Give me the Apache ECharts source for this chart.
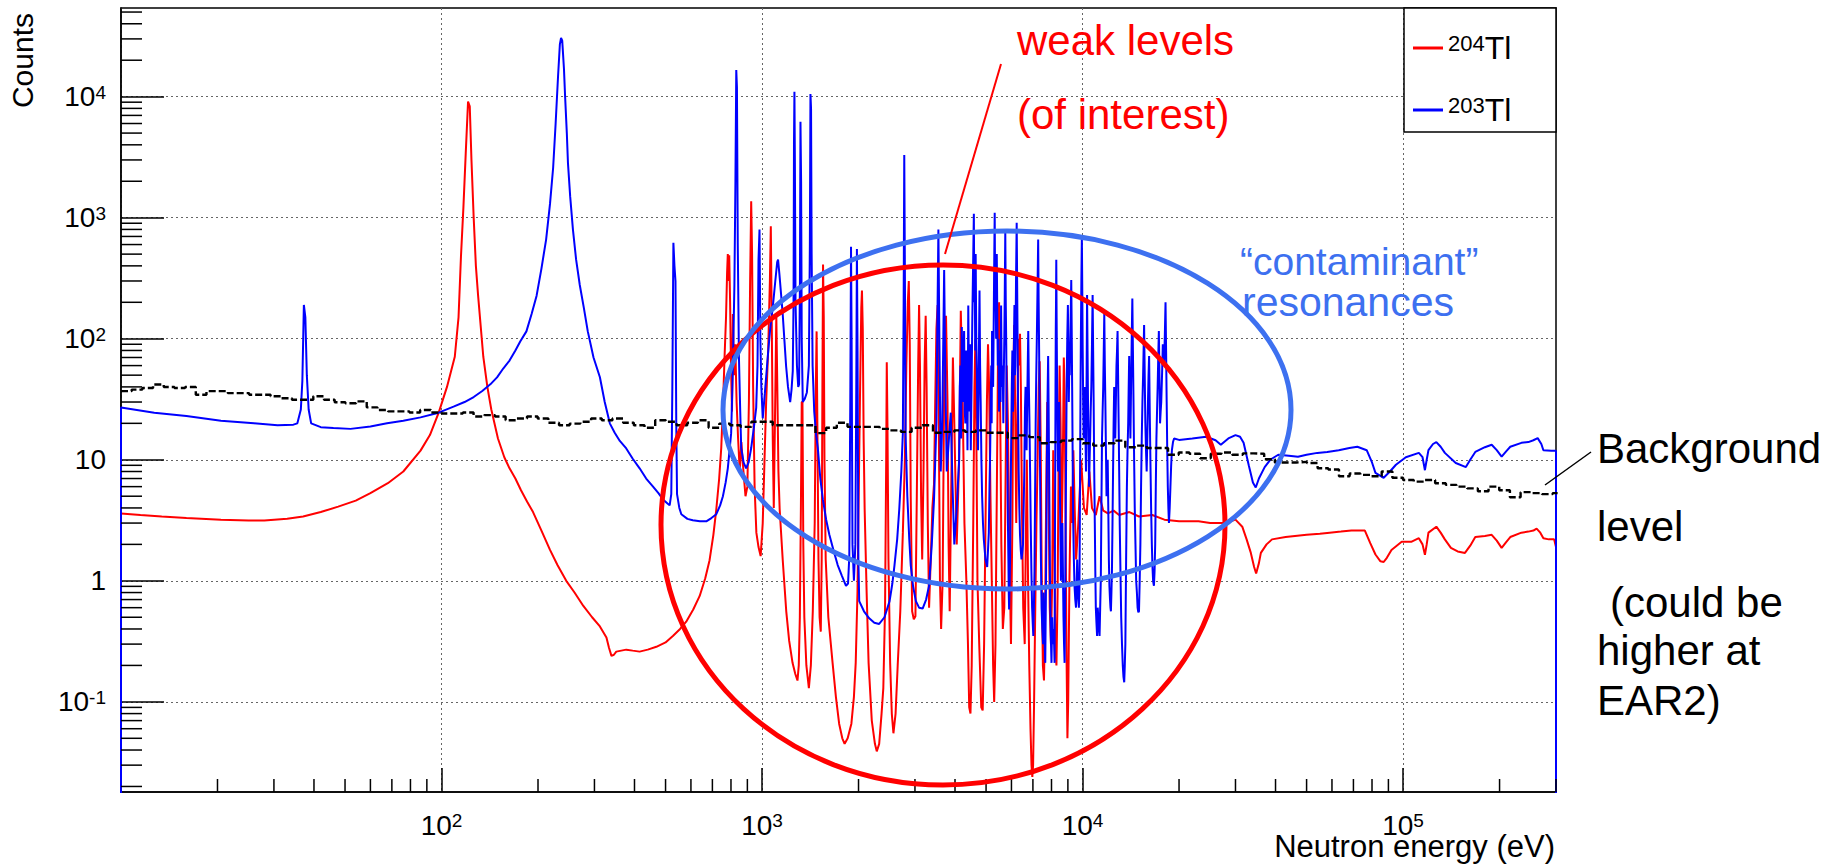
<!DOCTYPE html>
<html>
<head>
<meta charset="utf-8">
<title>204Tl / 203Tl counts vs neutron energy</title>
<script src="https://cdn.jsdelivr.net/npm/echarts@6.0.0/dist/echarts.min.js"></script>
<style>
  html, body { margin: 0; padding: 0; background: #fff; }
  #main { width: 1825px; height: 866px; }
</style>
</head>
<body>
<div id="main"></div>
<script>
// axis ranges
var xRange = [10, 3e5];
var yRange = [0.018, 5.4e4];
var xMajorTicks = [10, 1e2, 1e3, 1e4, 1e5];
var xLabelTicks = [1e2, 1e3, 1e4, 1e5];
var yMajorTicks = [1e-1, 1, 10, 1e2, 1e3, 1e4];

// 204Tl capture counts, [energy eV, counts]
var tl204 = [
  [10,3.6],[11.5,3.5],[13.4,3.4],[16,3.3],[20.5,3.2],[25,3.15],[28,3.15],[33,3.25],[37,3.4],[42,3.7],
  [47.6,4.1],[54,4.6],[60,5.3],[68,6.4],[76,8],[86,11.9],[92,16],[98,24.5],[104,40],[110,71],
  [113,150],[115,480],[117,1200],[119,3400],[121,9100],[122.5,8300],[124,3000],[126,1000],[128,400],[130,230],
  [135,71],[139,40],[143,26],[150,15],[157,10.5],[163,8.5],[170,7],[177,5.6],[185,4.5],[193,3.7],
  [205,2.6],[218,1.8],[230,1.35],[245,1],[260,0.8],[277,0.62],[295,0.5],[312,0.42],[327,0.34],[333,0.28],
  [339,0.24],[345,0.245],[351,0.26],[377,0.27],[395,0.265],[415,0.26],[440,0.27],[468,0.285],[500,0.31],[527,0.35],
  [555,0.4],[580,0.46],[610,0.58],[639,0.75],[665,1.05],[686,1.48],[705,2.4],[720,3.9],[735,7],[746,12.5],
  [756,30],[764,71],[772,150],[778,350],[782,500],[786,300],[790,490],[795,200],[800,60],[806,25],
  [811,160],[818,50],[825,90],[833,30],[842,15],[852,8],[862,14],[875,8],[888,5],[900,6],
  [910,30],[918,300],[925,1370],[931,500],[938,40],[948,6],[960,2.5],[975,1.9],[990,1.6],[1005,3],
  [1018,10],[1030,30],[1045,80],[1058,300],[1065,850],[1072,150],[1080,15],[1088,4],[1097,20],[1108,155],
  [1116,40],[1125,8],[1135,3.9],[1160,1.5],[1190,0.56],[1215,0.32],[1245,0.21],[1270,0.17],[1290,0.15],[1302,0.2],
  [1312,0.5],[1322,4],[1330,30],[1337,30],[1345,2],[1355,0.5],[1375,0.2],[1400,0.13],[1420,0.2],[1440,0.56],
  [1460,3],[1472,40],[1480,115],[1488,20],[1500,1.5],[1512,0.5],[1525,0.38],[1535,1.5],[1543,40],[1550,410],
  [1558,150],[1566,10],[1580,1.5],[1610,0.5],[1660,0.21],[1700,0.11],[1740,0.066],[1780,0.05],[1810,0.045],[1850,0.05],
  [1900,0.066],[1935,0.11],[1960,0.21],[1985,0.8],[2000,3.9],[2020,30],[2040,180],[2050,250],[2062,120],[2075,15],
  [2090,3.9],[2120,0.8],[2150,0.21],[2200,0.07],[2250,0.045],[2280,0.039],[2320,0.045],[2360,0.08],[2390,0.13],[2420,0.6],
  [2440,10],[2450,64],[2462,20],[2480,1.5],[2510,0.21],[2540,0.08],[2570,0.055],[2610,0.08],[2650,0.2],[2700,0.56],
  [2750,2.5],[2790,10],[2820,60],[2850,200],[2870,300],[2890,90],[2910,5],[2940,0.56],[2975,0.48],[3010,0.51],
  [3040,5],[3070,60],[3090,190],[3110,60],[3135,5],[3160,1.5],[3190,8],[3215,60],[3240,155],[3262,40],
  [3290,3],[3320,0.6],[3360,1.5],[3400,4],[3440,6.3],[3470,30],[3500,120],[3530,190],[3560,20],[3590,1],
  [3620,0.4],[3660,1],[3700,40],[3750,155],[3790,30],[3820,2],[3850,0.56],[3890,5],[3940,70],[3980,20],
  [4050,2],[4120,10],[4170,170],[4220,40],[4280,3],[4340,1],[4390,0.3],[4430,0.09],[4470,0.08],[4510,0.2],
  [4560,3],[4600,40],[4630,100],[4660,20],[4700,1],[4760,0.3],[4830,0.09],[4880,0.085],[4930,0.3],[4980,3],
  [5030,30],[5070,90],[5110,40],[5160,5],[5210,1],[5260,0.2],[5300,0.1],[5350,0.3],[5400,5],[5450,80],
  [5490,200],[5530,30],[5580,2],[5640,0.4],[5700,0.6],[5760,10],[5800,60],[5850,20],[5920,1.5],[5980,0.3],
  [6040,3],[6080,50],[6120,130],[6160,30],[6210,3],[6260,20],[6300,100],[6340,60],[6380,110],[6420,40],
  [6470,4],[6530,0.6],[6600,0.3],[6650,2],[6700,10],[6760,1],[6820,0.2],[6880,0.06],[6930,0.03],[6970,0.024],
  [7010,0.03],[7060,0.1],[7120,0.6],[7180,3],[7240,10],[7300,40],[7350,65],[7400,15],[7460,1],[7520,0.2],
  [7580,0.15],[7640,0.5],[7700,5],[7760,30],[7820,8],[7900,0.6],[7970,0.3],[8040,1],[8100,12],[8160,3],
  [8220,0.3],[8290,0.2],[8360,0.8],[8420,10],[8480,60],[8540,20],[8600,2],[8680,10],[8740,70],[8800,30],
  [8860,2],[8920,0.2],[8970,0.05],[9020,0.1],[9100,1],[9200,6],[9280,3],[9360,12],[9450,4],[9550,1.5],
  [9700,3],[9900,10],[10100,4],[10300,3.5],[10500,8],[10700,4],[11000,3.5],[11300,5],[11600,3.8],[12000,3.6],
  [12500,3.8],[13000,3.5],[14000,3.7],[15000,3.4],[16500,3.5],[18000,3.2],[20000,3.1],[23000,3.1],[25000,3],[28000,3],
  [30000,3.2],[31500,2.8],[32500,2.2],[33500,1.7],[34300,1.3],[34800,1.15],[35500,1.4],[36000,1.7],[37500,2],[39000,2.2],
  [43000,2.3],[46000,2.35],[50000,2.4],[55000,2.45],[59000,2.5],[64000,2.55],[69000,2.6],[76000,2.6],[79000,2.05],[82000,1.65],
  [85000,1.45],[87000,1.43],[89000,1.55],[92000,1.8],[99000,2.1],[106000,2.1],[112000,2.25],[115000,2],[117000,1.64],[118500,2],
  [120000,2.5],[127000,2.8],[131000,2.5],[135000,2.2],[141000,1.87],[148000,1.75],[156000,1.7],[162000,1.95],[168000,2.3],[180000,2.35],
  [189000,2.4],[196000,2.15],[203000,1.87],[210000,2.1],[216000,2.3],[234000,2.5],[246000,2.55],[255000,2.6],[261000,2.7],[268000,2.5],
  [274000,2.25],[285000,2.2],[296000,2.2],[300000,1.9]
];

// 203Tl capture counts, [energy eV, counts]
var tl203 = [
  [10,0.001],[10,27],[12.7,24.5],[16,23],[20.5,21],[26,20],[30.8,19.3],[34.5,19.5],[35.5,20],[36.4,26],
  [36.8,45],[37.2,190],[37.6,150],[38,50],[38.5,26],[39.2,20],[42,18.6],[46,18.3],[52,18],[60,18.8],
  [67.6,20],[76,21],[86,22.4],[98,24.5],[109,27.5],[118,30],[126,33],[134,37],[142,42],[149,48],
  [156,57],[163,66],[170,80],[176,95],[184,115],[191,160],[198,227],[205,380],[212,660],[218,1300],
  [223,2600],[227,6000],[231,14800],[234,27000],[236,30500],[238,29000],[241,17000],[243,10000],[246,5000],[248,2840],
  [252,1500],[257,800],[263,450],[270,278],[278,180],[286,115],[298,70],[312,48],[323,30],[335,20],
  [347,16.7],[360,14.3],[377,12.4],[395,10.2],[415,8.5],[435,7],[457,6],[475,5.3],[491,4.7],[505,4.4],
  [515,4.2],[521,5.2],[525,40],[529,620],[533,400],[537,300],[540,20],[543,5.2],[552,4],[560,3.55],
  [585,3.25],[608,3.16],[640,3.1],[670,3.1],[695,3.3],[720,3.55],[740,4.2],[755,5],[770,6.5],[782,8.5],
  [792,12],[801,16.6],[810,50],[820,280],[826,2000],[831,16600],[835,12000],[840,600],[847,71],[855,25],
  [861,12.5],[876,9.5],[892,8.5],[908,9.5],[925,12.5],[942,18],[959,27],[968,60],[975,450],[982,800],
  [988,100],[995,40],[1005,22],[1020,35],[1042,71],[1060,120],[1081,186],[1100,300],[1115,430],[1122,450],
  [1133,340],[1147,230],[1161,155],[1175,95],[1189,59],[1205,40],[1224,30],[1236,38],[1247,54],[1254,200],
  [1258,4000],[1262,11000],[1266,3000],[1272,200],[1285,60],[1297,40],[1305,42],[1313,300],[1318,6200],[1324,2000],
  [1330,100],[1340,30],[1360,32],[1380,36],[1400,60],[1410,600],[1416,10500],[1422,8000],[1428,500],[1438,60],
  [1455,25],[1475,16],[1493,12.5],[1520,7],[1548,4.7],[1585,3.2],[1622,2.4],[1670,1.8],[1722,1.35],[1775,1.1],
  [1828,0.91],[1855,0.95],[1872,1.6],[1885,30],[1895,575],[1903,100],[1915,2],[1935,1],[1955,2],[1968,40],
  [1977,550],[1986,80],[1998,1.5],[2010,0.68],[2080,0.56],[2160,0.49],[2240,0.45],[2320,0.44],[2410,0.5],[2500,0.68],
  [2550,0.95],[2590,1.35],[2640,2.2],[2680,3.9],[2720,8],[2750,16.6],[2766,200],[2778,3300],[2790,400],[2805,16],
  [2840,5],[2880,2.2],[2910,1.35],[2960,0.9],[3020,0.68],[3090,0.6],[3170,0.59],[3250,0.7],[3320,0.91],[3385,2],
  [3440,4.7],[3500,20],[3530,200],[3550,800],[3570,150],[3610,8],[3650,20],[3700,370],[3730,50],[3770,8],
  [3830,15],[3880,24.5],[3930,6],[3980,2],[4050,4],
  [4120,10],[4140,40],[4160,60],[4180,15],[4200,125],[4220,40],[4235,30],[4250,70],[4270,116],[4290,25],
  [4310,20],[4330,80],[4350,60],[4375,12],[4400,188],[4420,50],[4440,25],[4460,90],[4480,12],[4505,40],
  [4530,150],[4555,400],[4580,1080],[4595,200],[4610,300],[4625,80],[4640,500],[4660,100],[4680,50],[4700,20],
  [4720,12],[4745,60],[4770,250],[4790,60],[4810,30],[4835,10],[4860,5],[4890,3],[4920,2.2],[4950,1.8],
  [4980,1.5],[5010,1.4],[5040,1.3],[5070,1.8],[5100,2.5],[5125,6],[5150,12],[5170,30],[5190,60],[5205,20],
  [5220,116],[5240,50],[5260,40],[5280,120],[5300,400],[5320,1100],[5335,250],[5350,300],[5375,100],[5400,500],
  [5420,150],[5440,60],[5465,100],[5490,25],[5510,40],[5530,80],[5550,30],[5570,188],[5590,60],[5610,40],
  [5635,60],[5660,20],[5680,50],[5700,100],[5720,250],[5740,770],[5760,200],[5780,90],[5805,20],[5830,8],
  [5850,3],[5870,1.5],[5885,0.8],[5900,0.58],[5920,0.9],[5940,1.5],[5965,5],[5990,15],[6015,40],[6040,80],
  [6065,25],[6090,40],[6110,100],[6130,190],[6150,50],[6170,60],[6200,300],[6230,910],[6250,300],[6270,100],
  [6295,25],[6320,8],[6350,4],[6380,2.4],[6415,1.8],[6450,1.5],[6485,1.7],[6520,2],[6550,4],[6580,8],
  [6610,25],[6640,40],[6665,20],[6690,12],[6730,40],[6770,116],[6800,40],[6830,20],[6860,8],[6890,3],
  [6925,1.2],[6960,0.6],[6990,0.45],[7020,0.35],[7050,0.6],[7080,1.2],[7110,5],[7140,20],[7170,50],[7200,100],
  [7235,250],[7270,660],[7295,200],[7320,80],[7350,20],[7380,5],[7415,1.5],[7450,0.6],[7490,0.4],[7530,0.3],
  [7560,0.8],[7590,0.5],[7620,0.3],[7650,0.21],[7685,0.8],[7720,3],[7740,10],[7760,20],[7785,40],[7810,72],
  [7835,30],[7860,10],[7890,3],[7920,0.8],[7960,0.35],[8000,0.21],[8040,0.5],[8080,0.3],[8130,0.4],[8180,0.21],
  [8200,2],[8220,10],[8235,40],[8250,120],[8265,200],[8280,450],[8300,150],[8320,60],[8350,20],[8380,8],
  [8415,15],[8450,30],[8465,20],[8480,10],[8520,3],[8560,1],[8600,2],[8650,3],[8685,1.2],[8720,0.5],
  [8755,0.3],[8790,0.21],[8820,0.6],[8850,2],[8885,10],[8920,40],[8960,100],[9000,190],[9030,80],[9060,30],
  [9090,60],[9120,50],[9170,120],[9220,305],[9250,120],[9280,40],[9315,10],[9350,3],[9395,1.5],[9440,0.9],
  [9490,0.7],[9540,0.6],[9580,0.9],[9620,1.5],[9660,1],[9700,0.7],[9740,0.6],[9780,0.9],[9815,5],[9850,30],
  [9880,100],[9915,300],[9950,700],[9980,250],[10010,80],[10045,30],[10080,15],[10115,25],[10150,40],[10200,20],
  [10250,8],[10290,40],[10330,230],[10365,80],[10400,30],[10440,12],[10480,6],[10520,10],[10560,15],[10600,25],
  [10650,40],[10700,90],[10750,230],[10790,80],[10830,30],[10875,8],[10920,3],[10960,1.2],[11000,0.6],[11050,0.45],
  [11100,0.35],[11150,0.6],[11200,0.5],[11250,0.4],[11300,0.35],[11350,0.6],[11400,1],[11450,4],[11500,15],[11550,25],
  [11600,40],[11645,80],[11690,160],[11735,60],[11780,30],[11830,12],[11880,5],[11930,8],[11980,10],[12030,4],
  [12080,1.5],[12130,0.9],[12180,0.7],[12220,0.6],[12260,0.56],[12305,0.8],[12350,1.2],[12400,3],[12450,8],[12500,20],
  [12550,40],[12600,25],[12650,15],[12705,30],[12760,60],[12810,80],[12860,116],[12910,50],[12960,20],[13010,8],
  [13060,3],[13130,1.2],[13200,0.5],[13275,0.3],[13350,0.2],[13420,0.16],[13490,0.145],[13545,0.2],[13600,0.3],[13675,1.5],
  [13750,6],[13815,12],[13880,20],[13930,40],[13980,72],[14040,30],[14100,15],[14150,30],[14200,60],[14250,120],
  [14300,215],[14360,80],[14420,30],[14485,10],[14550,4],[14625,2],[14700,1],[14775,0.8],[14850,0.6],[14925,0.55],
  [15000,0.56],[15075,1],[15150,2],[15225,6],[15300,15],[15375,30],[15450,50],[15505,80],[15560,130],[15630,50],
  [15700,20],[15775,12],[15850,8],[15925,15],[16000,30],[16065,50],[16130,72],[16205,25],[16280,10],[16365,4],
  [16450,2],[16525,1.3],[16600,1],[16650,0.95],[16700,0.91],[16775,1.2],[16850,2],[16925,6],[17000,15],[17075,25],
  [17150,40],[17225,70],[17300,116],[17375,50],[17450,20],[17525,25],[17600,30],[17700,50],[17800,90],[17875,80],
  [17950,60],[18050,100],[18150,200],[18225,80],[18300,30],[18375,12],[18450,6],[18525,4],[18600,3],[18700,4],
  [18800,6],[18900,9],[19000,12],[19150,14],[19300,15],
  [20000,14.6],[22000,15],[24300,15.5],[26000,14.5],[27000,13.3],[28500,15],[30000,16],[31000,15.5],[31800,13.8],[33000,9],
  [34000,6.5],[34700,5.9],[35500,7],[37000,8.7],[38500,10],[40800,11],[44000,10.8],[47000,10.6],[50000,11],[54000,11.4],
  [58000,11.6],[63000,12],[68000,12.5],[72000,12.8],[77000,12],[80000,9.5],[82000,7.8],[87000,7.1],[91000,8],[95000,9.1],
  [102000,10.5],[112000,11.4],[115000,10.5],[117000,8.2],[118500,10],[120000,12],[124000,13.5],[127000,14],[131000,12.8],[135000,11.4],
  [146000,9.4],[157000,8.7],[162000,10],[168000,11.6],[180000,12.7],[189000,13.3],[196000,12],[203000,10.6],[210000,11.8],[216000,12.8],
  [234000,13.8],[246000,14],[255000,14.5],[263000,15.1],[270000,13.5],[274000,12],[290000,11.9],[300000,11.9],[300000,0.001]
];

// background histogram: 30 log bins per decade from 10 eV
var bgFirstEdge = 10;
var bgBinsPerDecade = 30;
var bgCounts = [
  36.9,38,39.2,41.9,39.9,39.2,39.9,34.5,36.9,36.9,
  35.5,35.5,34.5,34.5,33.5,32.2,31.3,31.3,33.5,31.3,
  29.9,29.3,30.4,27.1,25.8,25.1,25.1,24.6,25.8,24.6,
  24.1,24.1,24.6,22.8,23.4,22.8,21.2,21.9,22.8,21.9,
  20.2,19.3,19.9,20.6,21.9,21.2,21.9,20.2,19.3,18.4,
  21.2,20.6,19.3,20.2,21.2,18.4,19.9,19.3,18.7,20.6,
  20.6,19.3,19.3,19.3,19.3,16.6,18.4,20.2,18.7,18.7,
  18.7,18,17.5,17,18.4,19.3,16.7,17,17.5,17,
  17.5,16.7,16.7,15.1,15.9,15.4,13.7,14,14.4,14.8,
  13.7,13.1,13.7,14.4,12.7,13.1,12.5,12.5,11,11.5,
  11.2,10.3,11.2,11.5,11,11.3,11.2,10.1,9.5,9.5,
  9.6,9.4,8.5,8.3,7.3,7.7,7.5,7.3,8,7.1,
  6.8,6.6,6.8,6.4,6.2,6,5.8,5.5,6,5.6,
  4.9,5.4,5.3,5.2,5.3
];

var FONT = "'Liberation Sans', Arial, Helvetica, sans-serif";

function minorTicks(range) {
  var out = [];
  var d0 = Math.floor(Math.log10(range[0]));
  var d1 = Math.ceil(Math.log10(range[1]));
  for (var d = d0; d <= d1; d++) {
    for (var k = 2; k <= 9; k++) {
      var v = k * Math.pow(10, d);
      if (v >= range[0] * 0.999 && v <= range[1] * 1.001) out.push(v);
    }
  }
  return out;
}
var xMinor = minorTicks(xRange);
var yMinor = minorTicks(yRange);

function powLabel(v) {
  var n = Math.round(Math.log10(v));
  if (n === 0) return '{b|1}';
  if (n === 1) return '{b|10}';
  return '{b|10}{s|' + n + '}';
}

var labelRich = {
  b: { fontSize: 28, fontFamily: FONT, color: '#000', lineHeight: 28, verticalAlign: 'bottom', padding: [5, 0, 0, 0] },
  s: { fontSize: 19, fontFamily: FONT, color: '#000', lineHeight: 19, verticalAlign: 'top' }
};

// histogram outline: one point per lower bin edge, plus the closing edge
var bgLine = bgCounts.map(function (c, i) {
  return [bgFirstEdge * Math.pow(10, i / bgBinsPerDecade), c];
});
bgLine.push([bgFirstEdge * Math.pow(10, bgCounts.length / bgBinsPerDecade), bgCounts[bgCounts.length - 1]]);

function renderXMinor(params, api) {
  var p = api.coord([api.value(0), yRange[0]]);
  return { type: 'line', shape: { x1: p[0], y1: p[1], x2: p[0], y2: p[1] - 13 }, style: { stroke: '#000', lineWidth: 1.5 } };
}
function renderYMinor(params, api) {
  var p = api.coord([xRange[0], api.value(1)]);
  return { type: 'line', shape: { x1: p[0], y1: p[1], x2: p[0] + 21, y2: p[1] }, style: { stroke: '#000', lineWidth: 1.5 } };
}

function txt(x, baseline, size, color, text) {
  return {
    type: 'text', x: x, y: baseline - 0.35 * size, z: 20,
    style: { text: text, fill: color, font: size + 'px ' + FONT, textAlign: 'left', textVerticalAlign: 'middle', verticalAlign: 'middle' }
  };
}

var chart = echarts.init(document.getElementById('main'), null, { renderer: 'svg' });
chart.setOption({
  backgroundColor: '#fff',
  animation: false,
  grid: {
    left: 121, right: 269, top: 8, bottom: 74,
    show: true, borderColor: '#000', borderWidth: 1.5,
    containLabel: false, outerBoundsMode: 'none'
  },
  legend: {
    data: ['204Tl', '203Tl'],
    orient: 'vertical', left: 1408, top: 19,
    icon: 'rect', itemWidth: 30, itemHeight: 3, itemGap: 22,
    selectedMode: false,
    formatter: function (name) { return '{s|' + name.slice(0, 3) + '}{b|' + name.slice(3) + '}'; },
    textStyle: {
      rich: {
        s: { fontSize: 22, fontFamily: FONT, color: '#000', lineHeight: 22, verticalAlign: 'top' },
        b: { fontSize: 32, fontFamily: FONT, color: '#000', lineHeight: 32, verticalAlign: 'bottom', padding: [8, 0, 0, 0] }
      }
    }
  },
  xAxis: {
    type: 'log', logBase: 10, min: xRange[0], max: xRange[1],
    axisLine: { show: true, lineStyle: { color: '#000', width: 1.5 } },
    axisTick: { show: true, inside: true, length: 24, customValues: xMajorTicks, lineStyle: { color: '#000', width: 1.5 } },
    axisLabel: { customValues: xLabelTicks, margin: 19, formatter: powLabel, rich: labelRich },
    splitLine: { show: true, lineStyle: { type: [2, 3], color: '#666', width: 1 } },
    minorTick: { show: false }
  },
  yAxis: {
    type: 'log', logBase: 10, min: yRange[0], max: yRange[1],
    axisLine: { show: true, lineStyle: { color: '#000', width: 1.5 } },
    axisTick: { show: true, inside: true, length: 43, customValues: yMajorTicks, lineStyle: { color: '#000', width: 1.5 } },
    axisLabel: { customValues: yMajorTicks, margin: 15, formatter: powLabel, rich: labelRich },
    splitLine: { show: true, lineStyle: { type: [2, 3], color: '#666', width: 1 } },
    minorTick: { show: false }
  },
  series: [
    {
      name: '204Tl', type: 'line', data: tl204, showSymbol: false, symbol: 'none', clip: true, silent: true,
      lineStyle: { color: '#ff0000', width: 2 }, itemStyle: { color: '#ff0000' }, z: 2
    },
    {
      name: '203Tl', type: 'line', data: tl203, showSymbol: false, symbol: 'none', clip: true, silent: true,
      lineStyle: { color: '#0000ff', width: 2 }, itemStyle: { color: '#0000ff' }, z: 3
    },
    {
      name: 'background', type: 'line', data: bgLine, step: 'end', showSymbol: false, symbol: 'none', clip: true, silent: true,
      lineStyle: { color: '#000', width: 2.4, type: [7, 3] }, z: 4
    },
    {
      name: 'xminor', type: 'custom', silent: true, z: 5,
      data: xMinor.map(function (v) { return [v, yRange[0]]; }), renderItem: renderXMinor
    },
    {
      name: 'yminor', type: 'custom', silent: true, z: 5,
      data: yMinor.map(function (v) { return [xRange[0], v]; }), renderItem: renderYMinor
    }
  ],
  graphic: [
    { type: 'rect', z: 3, shape: { x: 1404, y: 8, width: 152, height: 124 }, style: { fill: '#fff', stroke: '#000', lineWidth: 1.5 } },
    { type: 'ellipse', z: 15, shape: { cx: 943, cy: 525, rx: 282, ry: 260 }, style: { fill: 'none', stroke: '#ff0000', lineWidth: 5 } },
    { type: 'ellipse', z: 16, shape: { cx: 1007, cy: 410, rx: 284, ry: 179 }, style: { fill: 'none', stroke: '#3d70f0', lineWidth: 5 } },
    { type: 'line', z: 17, shape: { x1: 1001, y1: 64, x2: 945, y2: 254 }, style: { stroke: '#ff0000', lineWidth: 2 } },
    { type: 'line', z: 17, shape: { x1: 1545, y1: 485, x2: 1591, y2: 452 }, style: { stroke: '#000', lineWidth: 1.5 } },
    txt(1017, 55, 42, '#ff0000', 'weak levels'),
    txt(1017, 129, 42, '#ff0000', '(of interest)'),
    txt(1240, 275, 39, '#3d70f0', '\u201Ccontaminant\u201D'),
    txt(1242, 316, 41, '#3d70f0', 'resonances'),
    txt(1597, 463, 42, '#000', 'Background'),
    txt(1597, 541, 42, '#000', 'level'),
    txt(1610, 617, 42, '#000', '(could be'),
    txt(1597, 665, 42, '#000', 'higher at'),
    txt(1597, 715, 42, '#000', 'EAR2)'),
    {
      type: 'text', x: 22, y: 13, rotation: Math.PI / 2, z: 20,
      style: { text: 'Counts', fill: '#000', font: '30px ' + FONT, textAlign: 'right', textVerticalAlign: 'middle', verticalAlign: 'middle' }
    },
    {
      type: 'text', x: 1555, y: 857 - 0.35 * 31, z: 20,
      style: { text: 'Neutron energy (eV)', fill: '#000', font: '31px ' + FONT, textAlign: 'right', textVerticalAlign: 'middle', verticalAlign: 'middle' }
    }
  ]
});
</script>
</body>
</html>
